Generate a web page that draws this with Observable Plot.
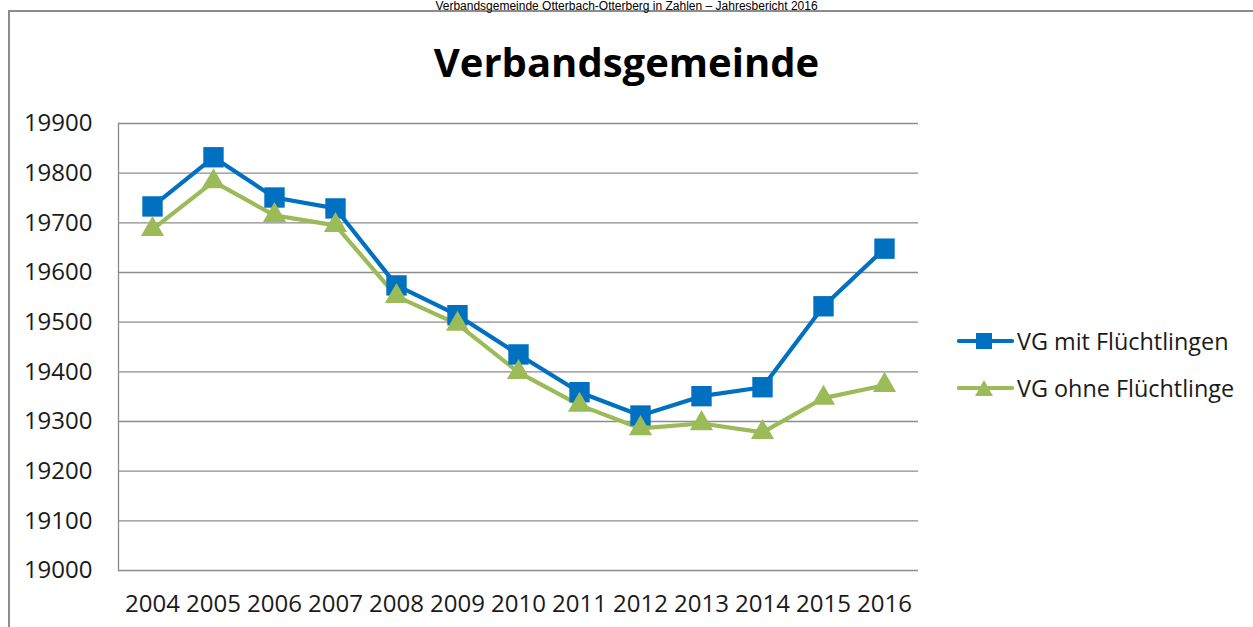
<!DOCTYPE html>
<html><head><meta charset="utf-8">
<script src="https://cdn.jsdelivr.net/npm/d3@7"></script>
<script src="https://cdn.jsdelivr.net/npm/@observablehq/plot@0.6"></script>
<style>
html,body{margin:0;padding:0;background:#fff;overflow:hidden;}
#wrap{position:relative;width:1253px;height:627px;overflow:hidden;}
#hdr{position:absolute;left:0;width:1253px;top:0px;text-align:center;font:12px "Liberation Sans",Arial,sans-serif;line-height:12px;color:#000;white-space:nowrap;}
#box{position:absolute;left:8px;top:10px;width:1250px;height:640px;border:2px solid #8c8c8c;box-sizing:border-box;}
#title{position:absolute;left:0;width:1253px;top:36px;text-align:center;font:bold 40px "Open Sans",sans-serif;color:#000;line-height:52px;}
#chart{position:absolute;left:0;top:0;}
#legend{position:absolute;left:957px;top:317px;font:23.4px "Open Sans",sans-serif;color:#1a1a1a;}
.li{display:flex;align-items:center;height:47px;}
.li svg{margin-right:3px;}
</style></head><body>
<div id="wrap">
<div id="box"></div>
<div id="hdr"></div>
<div id="chart"></div>
<div id="title"></div>
<div id="legend"></div>
</div>
<script>
const headerText = "Verbandsgemeinde Otterbach-Otterberg in Zahlen – Jahresbericht 2016";
const titleText = "Verbandsgemeinde";
const years = ["2004","2005","2006","2007","2008","2009","2010","2011","2012","2013","2014","2015","2016"];
const mitFluechtlingen = [19733,19832,19751,19729,19574,19514,19435,19359,19312,19351,19369,19532,19648];
const ohneFluechtlinge = [19687,19783,19715,19695,19552,19496,19399,19333,19286,19296,19278,19347,19373];
const seriesNames = ["VG mit Flüchtlingen","VG ohne Flüchtlinge"];
const seriesColors = ["#0070C0","#9BBB59"];
const seriesSymbols = ["square","triangle"];
const yTicks = [19000,19100,19200,19300,19400,19500,19600,19700,19800,19900];

document.getElementById("hdr").textContent = headerText;
document.getElementById("title").textContent = titleText;

const mit = years.map((y,i)=>({year:y, value:mitFluechtlingen[i]}));
const ohne = years.map((y,i)=>({year:y, value:ohneFluechtlinge[i]}));

const chart = Plot.plot({
  width:1253, height:627,
  marginLeft:118, marginRight:335, marginTop:123, marginBottom:57,
  style:{fontFamily:"'Open Sans',sans-serif", fontSize:"24px", color:"#1a1a1a", background:"transparent"},
  x:{type:"point", domain:years, padding:0.5, label:null},
  y:{domain:[19000,19900], label:null},
  marks:[
    Plot.ruleY(yTicks,{stroke:"#8c8c8c", strokeWidth:1.3}),
    Plot.frame({anchor:"left", stroke:"#8c8c8c", strokeWidth:1.3}),
    Plot.axisY({ticks:yTicks, tickSize:0, tickPadding:26, label:null, tickFormat:d=>String(d), fill:"#1a1a1a"}),
    Plot.axisX({tickSize:0, tickPadding:24, label:null, fill:"#1a1a1a"}),
    Plot.line(mit,{x:"year", y:"value", stroke:seriesColors[0], strokeWidth:4.2}),
    Plot.line(ohne,{x:"year", y:"value", stroke:seriesColors[1], strokeWidth:4.2}),
    Plot.dot(mit,{x:"year", y:"value", symbol:seriesSymbols[0], r:11.5, fill:seriesColors[0], stroke:null}),
    Plot.dot(ohne,{x:"year", y:"value", symbol:seriesSymbols[1], r:8.6, fill:seriesColors[1], stroke:null})
  ]
});
document.getElementById("chart").appendChild(chart);

const leg = document.getElementById("legend");
seriesNames.forEach((n,i)=>{
  const row = document.createElement("div"); row.className="li";
  const sym = seriesSymbols[i]==="square"
    ? `<rect x="19" y="2" width="16" height="16" fill="${seriesColors[i]}"/>`
    : `<path d="M27,2 L36,18 L18,18 Z" fill="${seriesColors[i]}"/>`;
  row.innerHTML = `<svg width="57" height="20"><line x1="2" y1="10" x2="55" y2="10" stroke="${seriesColors[i]}" stroke-width="4.2" stroke-linecap="round"/>${sym}</svg><span>${n}</span>`;
  leg.appendChild(row);
});
</script>
</body></html>
